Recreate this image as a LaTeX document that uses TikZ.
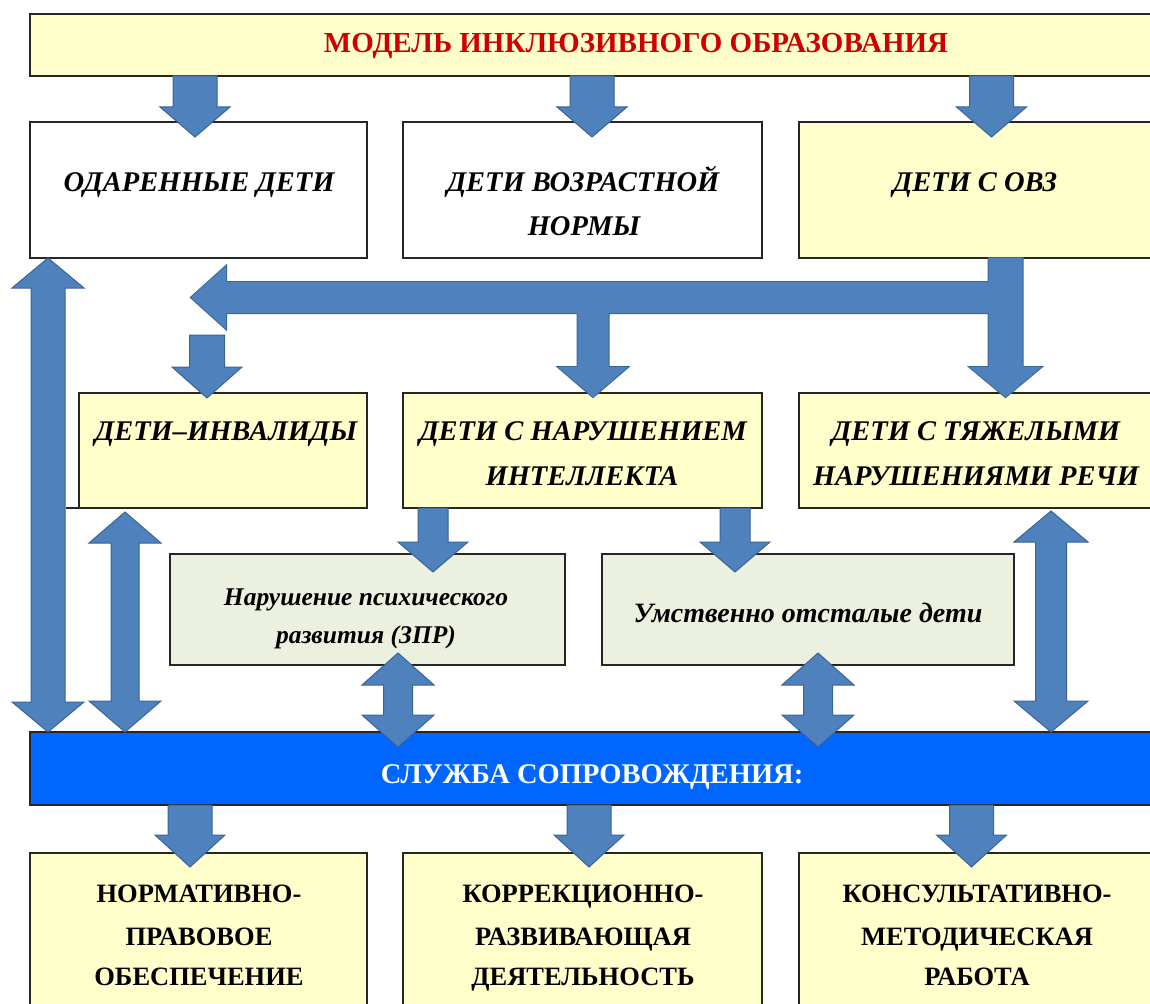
\documentclass[tikz,border=0pt]{standalone}
\usepackage{fontspec}
\setmainfont{Liberation Serif}
\usetikzlibrary{calc}
\definecolor{ayel}{HTML}{FFFFCC}
\definecolor{agrn}{HTML}{EBF1DE}
\definecolor{ablue}{HTML}{4F81BD}
\definecolor{aedge}{HTML}{3A6497}
\definecolor{sblue}{HTML}{0066FF}
\definecolor{tred}{HTML}{CC0000}
\tikzset{
  box/.style={draw=black!85, line width=1.4pt, rectangle, inner sep=0pt, outer sep=0pt, anchor=north west},
  barrow/.style={fill=ablue, draw=aedge, line width=1pt, line join=miter},
  bedge/.style={draw=aedge, line width=2pt, line join=miter},
  bfill/.style={fill=ablue},
  tt/.style={font=\fontsize{29}{32}\selectfont\bfseries, text=tred, anchor=base, inner sep=0pt},
  it/.style={font=\fontsize{28.5}{32}\selectfont\bfseries\itshape, anchor=base, inner sep=0pt},
  bt/.style={font=\fontsize{26.5}{30}\selectfont\bfseries, anchor=base, inner sep=0pt},
  st/.style={font=\fontsize{25.5}{30}\selectfont\bfseries\itshape, anchor=base, inner sep=0pt},
  ut/.style={font=\fontsize{28}{30}\selectfont\bfseries\itshape, anchor=base, inner sep=0pt},
  wt/.style={font=\fontsize{28.5}{32}\selectfont\bfseries, text=white, anchor=base, inner sep=0pt},
}
% box: name, x1, y1, x2, y2, style
\newcommand\mkbox[6]{\node[box,#6,minimum width=#4pt-#2pt,minimum height=#5pt-#3pt] (#1) at (#2,#3) {};}
% down arrow: [style]{from}{tip}{shaft half}{head half}{head length}
\newcommand\dnarr[6][barrow]{\path[#1] let \p1=(#2),\p2=(#3) in
  ($(\x2,\y1)+(-#4,0)$) -- ($(\x2,\y2)+(-#4,-#6)$) -- ($(\x2,\y2)+(-#5,-#6)$) -- (\x2,\y2)
  -- ($(\x2,\y2)+(#5,-#6)$) -- ($(\x2,\y2)+(#4,-#6)$) -- ($(\x2,\y1)+(#4,0)$) -- cycle;}
% up-down arrow: [style]{top tip}{bottom tip}{shaft half}{head half}{head length}
\newcommand\udarr[6][barrow]{\path[#1] let \p1=(#2),\p2=(#3) in
  (\x1,\y1) -- ($(\x1,\y1)+(#5,#6)$) -- ($(\x1,\y1)+(#4,#6)$) -- ($(\x1,\y2)+(#4,-#6)$)
  -- ($(\x1,\y2)+(#5,-#6)$) -- (\x1,\y2) -- ($(\x1,\y2)+(-#5,-#6)$) -- ($(\x1,\y2)+(-#4,-#6)$)
  -- ($(\x1,\y1)+(-#4,#6)$) -- ($(\x1,\y1)+(-#5,#6)$) -- cycle;}
% left arrow: [style]{from}{tip}{shaft half}{head half}{head length}
\newcommand\lfarr[6][barrow]{\path[#1] let \p1=(#2),\p2=(#3) in
  ($(\x1,\y2)+(0,-#4)$) -- ($(\x2,\y2)+(#6,-#4)$) -- ($(\x2,\y2)+(#6,-#5)$) -- (\x2,\y2)
  -- ($(\x2,\y2)+(#6,#5)$) -- ($(\x2,\y2)+(#6,#4)$) -- ($(\x1,\y2)+(0,#4)$) -- cycle;}
\begin{document}
\begin{tikzpicture}[x=1pt,y=-1pt]
\clip (0,0) rectangle (1150,1003);
\fill[white] (0,0) rectangle (1150,1003);
% boxes
\mkbox{title}{30}{14}{1160}{76}{fill=ayel}
\mkbox{o1}{30}{122}{367}{258}{fill=white}
\mkbox{o2}{403}{122}{762}{258}{fill=white}
\mkbox{o3}{799}{122}{1160}{258}{fill=ayel}
\mkbox{r1}{79}{393}{367}{508}{fill=ayel}
\mkbox{r2}{403}{393}{762}{508}{fill=ayel}
\mkbox{r3}{799}{393}{1160}{508}{fill=ayel}
\mkbox{s1}{170}{554}{565}{665}{fill=agrn}
\mkbox{s2}{602}{554}{1014}{665}{fill=agrn}
\mkbox{svc}{30}{732}{1160}{805}{fill=sblue}
\mkbox{b1}{30}{853}{367}{1015}{fill=ayel}
\mkbox{b2}{403}{853}{762}{1015}{fill=ayel}
\mkbox{b3}{799}{853}{1160}{1015}{fill=ayel}
\draw[black!85, line width=1.4pt] (r1.south west) -- ++(-13,0);
% texts
\node[tt] (titlet) at (636,53) {МОДЕЛЬ ИНКЛЮЗИВНОГО ОБРАЗОВАНИЯ};
\node[it] (o1t) at (199,191) {ОДАРЕННЫЕ ДЕТИ};
\node[it] (o2t) at (583,191) {ДЕТИ ВОЗРАСТНОЙ};
\node[it] (o2u) at (584,235) {НОРМЫ};
\node[it] (o3t) at (975,191) {ДЕТИ С ОВЗ};
\node[it] (r1t) at (226,440) {ДЕТИ–ИНВАЛИДЫ};
\node[it] (r2t) at (583,440) {ДЕТИ С НАРУШЕНИЕМ};
\node[it] (r2u) at (582,485) {ИНТЕЛЛЕКТА};
\node[it] (r3t) at (976,440) {ДЕТИ С ТЯЖЕЛЫМИ};
\node[it] (r3u) at (976,485) {НАРУШЕНИЯМИ РЕЧИ};
\node[st] (s1t) at (366,605) {Нарушение психического};
\node[st] (s1u) at (366,643) {развития (ЗПР)};
\node[ut] (s2t) at (808,622) {Умственно отсталые дети};
\node[wt] (svct) at (592,783) {СЛУЖБА СОПРОВОЖДЕНИЯ:};
\node[bt] (b1t) at (199,902) {НОРМАТИВНО-};
\node[bt] (b1u) at (199,945) {ПРАВОВОЕ};
\node[bt] (b1v) at (199,985) {ОБЕСПЕЧЕНИЕ};
\node[bt] (b2t) at (583,902) {КОРРЕКЦИОННО-};
\node[bt] (b2u) at (583,945) {РАЗВИВАЮЩАЯ};
\node[bt] (b2v) at (583,985) {ДЕЯТЕЛЬНОСТЬ};
\node[bt] (b3t) at (977,902) {КОНСУЛЬТАТИВНО-};
\node[bt] (b3u) at (977,945) {МЕТОДИЧЕСКАЯ};
\node[bt] (b3v) at (977,985) {РАБОТА};
% arrow coordinates
\coordinate (a1t) at ($(o1.north)+(-3.5,15)$);
\coordinate (a2t) at ($(o2.north)+(9.5,15)$);
\coordinate (a3t) at ($(o3.north)+(12,15)$);
\coordinate (tvt) at ($(r3.north)+(26,4)$);
\coordinate (hj) at ($(tvt)+(0,-99.5)$);
\coordinate (ht) at (191,297.5);
\coordinate (mdt) at ($(r2.north)+(10.5,4)$);
\coordinate (ldt) at ($(r1.north)+(-16,5)$);
\coordinate (lds) at (207,335);
\coordinate (l1t) at ($(o1.south west)+(18,0)$);
\coordinate (l2t) at ($(r1.south west)+(46,4)$);
\coordinate (l3t) at ($(r3.south west)+(252,3)$);
\coordinate (s1a) at ($(s1.north)+(65.5,18)$);
\coordinate (s2a) at ($(s2.north)+(-73,18)$);
\coordinate (z1t) at ($(s1.south)+(30.5,-12)$);
\coordinate (z2t) at ($(s2.south)+(10,-12)$);
\coordinate (c1t) at ($(b1.north)+(-8.5,14)$);
\coordinate (c2t) at ($(b2.north)+(6.5,14)$);
\coordinate (c3t) at ($(b3.north)+(-8,14)$);
% top arrows
\dnarr{a1t |- title.south}{a1t}{22}{35}{30}
\dnarr{a2t |- title.south}{a2t}{22}{35}{30}
\dnarr{a3t |- title.south}{a3t}{22}{35}{30}
% T structure: outline first, then fill
\dnarr[bedge]{tvt |- o3.south}{tvt}{17}{36}{30}
\lfarr[bedge]{hj}{ht}{15.5}{31.5}{35}
\dnarr[bedge]{mdt |- hj}{mdt}{15.5}{35}{30}
\dnarr[bfill]{tvt |- o3.south}{tvt}{17}{36}{30}
\lfarr[bfill]{hj}{ht}{15.5}{31.5}{35}
\dnarr[bfill]{mdt |- hj}{mdt}{15.5}{35}{30}
\dnarr{lds}{ldt}{17.5}{35}{31}
% long double arrows
\udarr{l1t}{l1t |- svc.north}{17}{36}{30}
\udarr{l2t}{l2t |- svc.north}{14}{36}{31}
\udarr{l3t}{l3t |- svc.north}{15.5}{37}{31}
% to sub boxes
\dnarr{s1a |- r2.south}{s1a}{15}{35}{30}
\dnarr{s2a |- r2.south}{s2a}{15}{35}{30}
\udarr{z1t}{$(z1t |- svc.north)+(0,15)$}{14.5}{36}{32}
\udarr{z2t}{$(z2t |- svc.north)+(0,15)$}{14.5}{36}{32}
% bottom arrows
\dnarr{c1t |- svc.south}{c1t}{22}{35}{32}
\dnarr{c2t |- svc.south}{c2t}{22}{35}{32}
\dnarr{c3t |- svc.south}{c3t}{22}{35}{32}
\end{tikzpicture}
\end{document}
